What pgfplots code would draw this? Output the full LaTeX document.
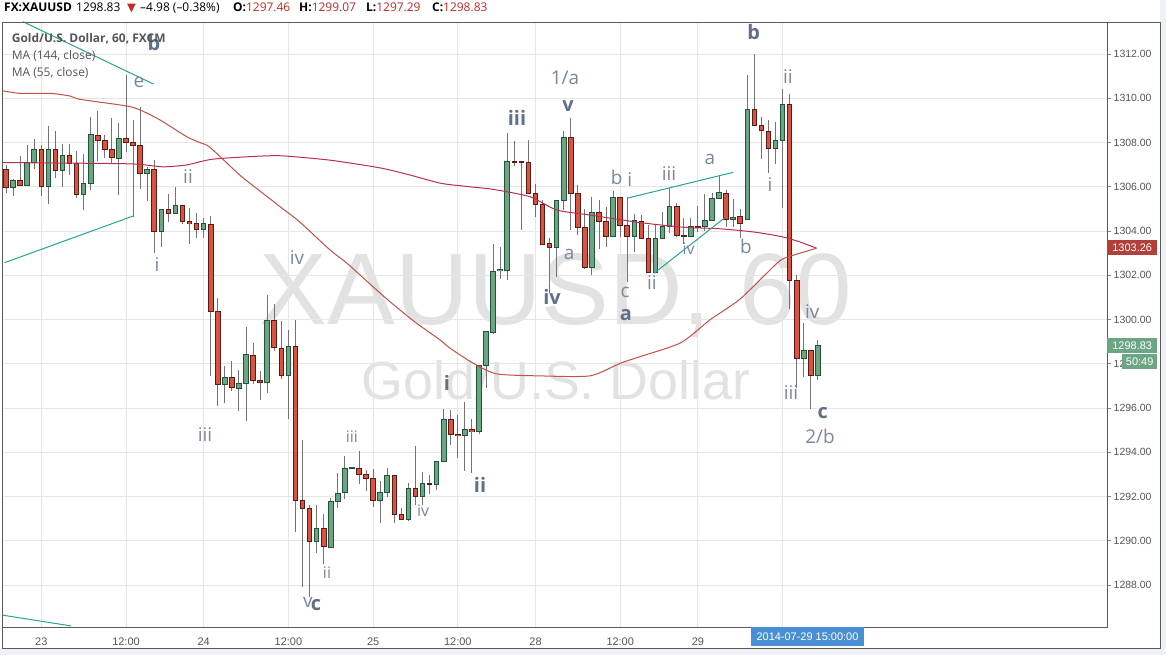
\documentclass[border=0pt]{standalone}
\usepackage{pgfplots}
\pgfplotsset{compat=1.18}
\usepackage{pgfplotstable}
\usepackage{fontspec}
\setmainfont{Open Sans}
\newfontfamily\axisfont{Liberation Sans}
\newfontfamily\symfont{DejaVu Sans}

\definecolor{upfill}{HTML}{6BA583}
\definecolor{upborder}{HTML}{225437}
\definecolor{dnfill}{HTML}{D75442}
\definecolor{dnborder}{HTML}{5B1A13}
\definecolor{wickc}{HTML}{737375}
\definecolor{gridc}{HTML}{E6E6E6}
\definecolor{maA}{HTML}{B73052}
\definecolor{maB}{HTML}{C45046}
\definecolor{trendc}{HTML}{26A68C}
\definecolor{wave}{HTML}{78879B}
\definecolor{waveb}{HTML}{5F7087}
\definecolor{wm}{HTML}{E2E2E2}
\definecolor{axtext}{HTML}{555555}
\definecolor{framec}{HTML}{5A5A5A}
\definecolor{bgstrip}{HTML}{EEF1F5}
\definecolor{hdrred}{HTML}{C62828}
\definecolor{pricered}{HTML}{B2403A}
\definecolor{pricegreen}{HTML}{6BA583}
\definecolor{datebox}{HTML}{4A8FD6}

\pgfplotstableread{
i o h l c
0 1306.78 1306.98 1305.70 1305.97
1 1305.97 1306.35 1305.60 1306.30
2 1306.30 1307.40 1306.05 1306.05
3 1306.05 1307.90 1306.05 1307.10
4 1307.10 1308.15 1306.80 1307.70
5 1307.70 1307.90 1305.60 1306.00
6 1306.00 1308.75 1305.25 1307.70
7 1307.70 1308.55 1306.40 1306.75
8 1306.75 1307.95 1306.00 1307.40
9 1307.40 1307.95 1306.55 1307.05
10 1307.05 1307.60 1305.50 1305.65
11 1305.65 1307.50 1304.95 1306.15
12 1306.15 1309.15 1305.85 1308.35
13 1308.35 1309.45 1307.15 1308.10
14 1308.10 1308.35 1307.30 1307.70
15 1307.70 1309.10 1307.05 1307.30
16 1307.30 1308.90 1305.65 1308.20
17 1308.20 1311.05 1307.55 1308.00
18 1308.00 1309.00 1304.65 1307.85
19 1307.85 1309.60 1305.90 1306.60
20 1306.60 1306.90 1305.35 1306.80
21 1306.80 1307.20 1303.00 1304.00
22 1304.00 1305.00 1303.30 1305.00
23 1305.00 1305.70 1304.40 1304.80
24 1304.80 1306.00 1304.80 1305.15
25 1305.15 1305.20 1304.35 1304.42
26 1304.42 1305.07 1303.41 1304.32
27 1304.32 1304.84 1303.71 1304.08
28 1304.08 1304.59 1303.71 1304.32
29 1304.32 1304.69 1297.46 1300.37
30 1300.37 1300.97 1296.10 1297.09
31 1297.09 1297.92 1296.21 1297.39
32 1297.39 1298.14 1296.76 1296.91
33 1296.91 1297.72 1295.85 1297.13
34 1297.13 1299.68 1295.43 1298.40
35 1298.40 1298.92 1297.09 1297.24
36 1297.24 1297.69 1296.36 1297.16
37 1297.18 1301.12 1296.67 1299.98
38 1299.98 1300.72 1298.60 1298.75
39 1298.72 1299.96 1297.32 1297.47
40 1297.47 1299.52 1295.51 1298.78
41 1298.78 1299.96 1290.38 1291.81
42 1291.81 1294.54 1287.90 1291.48
43 1291.48 1291.63 1287.48 1289.97
44 1289.97 1291.63 1289.47 1290.54
45 1290.54 1291.22 1288.96 1289.73
46 1289.73 1291.93 1289.73 1291.78
47 1291.78 1293.06 1291.48 1292.17
48 1292.17 1293.82 1291.90 1293.29
49 1293.29 1293.30 1293.29 1293.30
50 1293.29 1294.05 1292.57 1293.02
51 1293.02 1293.21 1292.26 1292.81
52 1292.81 1293.26 1291.55 1291.81
53 1291.81 1292.72 1290.80 1292.17
54 1292.17 1293.29 1291.96 1292.96
55 1292.96 1292.96 1290.82 1291.20
56 1291.20 1291.47 1290.97 1290.97
57 1290.97 1292.60 1290.92 1292.37
58 1292.37 1294.28 1291.62 1292.01
59 1292.01 1293.11 1291.62 1292.60
60 1292.60 1292.96 1292.13 1292.56
61 1292.56 1293.60 1292.28 1293.60
62 1293.60 1295.95 1293.60 1295.46
63 1295.46 1295.91 1294.32 1294.82
64 1294.82 1295.68 1293.76 1294.75
65 1294.75 1296.29 1293.13 1295.05
66 1295.05 1295.50 1293.08 1294.93
67 1294.93 1297.95 1294.83 1297.92
68 1297.92 1299.45 1296.90 1299.44
69 1299.44 1303.44 1299.36 1302.20
70 1302.20 1303.29 1301.85 1302.25
71 1302.23 1308.42 1301.78 1307.14
72 1307.14 1308.08 1306.97 1307.10
73 1307.12 1307.12 1304.04 1307.08
74 1307.10 1308.12 1305.70 1305.70
75 1305.70 1306.13 1304.65 1305.21
76 1305.21 1305.40 1303.41 1303.41
77 1303.44 1303.70 1301.20 1303.26
78 1303.26 1305.40 1301.93 1305.40
79 1305.40 1308.54 1304.95 1308.24
80 1308.24 1309.10 1304.04 1305.70
81 1305.70 1306.08 1303.82 1304.16
82 1304.16 1305.02 1302.30 1302.35
83 1302.35 1305.55 1302.00 1304.84
84 1304.84 1305.40 1303.21 1304.42
85 1304.42 1305.10 1303.29 1303.74
86 1303.74 1305.82 1303.74 1305.52
87 1305.52 1305.52 1303.74 1304.25
88 1304.25 1305.55 1301.70 1303.74
89 1303.74 1304.76 1303.06 1304.45
90 1304.45 1304.72 1303.66 1303.66
91 1303.66 1304.27 1302.15 1302.15
92 1302.15 1304.27 1302.15 1303.66
93 1303.66 1304.87 1303.66 1304.22
94 1304.22 1305.92 1303.92 1305.13
95 1305.13 1305.25 1303.74 1303.81
96 1303.80 1304.60 1303.43 1303.76
97 1303.74 1304.60 1303.74 1304.22
98 1304.22 1305.13 1303.96 1304.20
99 1304.19 1305.70 1304.00 1304.50
100 1304.50 1305.73 1304.46 1305.47
101 1305.47 1306.53 1305.47 1305.73
102 1305.73 1305.85 1304.19 1304.52
103 1304.52 1305.47 1304.19 1304.64
104 1304.64 1305.02 1303.71 1304.34
105 1304.53 1311.06 1304.53 1309.51
106 1309.51 1312.00 1308.80 1308.80
107 1308.78 1309.16 1307.29 1308.53
108 1308.53 1309.01 1306.64 1307.74
109 1307.74 1308.94 1307.05 1308.11
110 1308.11 1310.42 1305.03 1309.74
111 1309.74 1310.19 1300.50 1301.77
112 1301.77 1302.00 1296.90 1298.23
113 1298.23 1299.85 1297.43 1298.60
114 1298.60 1298.60 1295.97 1297.46
115 1297.46 1299.07 1297.29 1298.83
}\candles

\pgfplotstableread{
i v
-0.57 1307.09
8 1307.07
18 1307.03
22.2 1306.90
25.5 1306.98
27.5 1307.13
29.4 1307.25
34 1307.35
38.8 1307.40
45.9 1307.20
53 1306.85
57.2 1306.53
61.5 1306.16
65 1306.02
69 1305.88
74.2 1305.55
78 1304.95
82.7 1304.72
89.8 1304.38
95.9 1304.17
101.1 1304.10
106 1303.95
109.9 1303.74
112.5 1303.50
114.8 1303.22
}\maslow

\pgfplotstableread{
i v
-0.57 1310.34
1.98 1310.22
6.23 1310.22
9.07 1310.10
10.5 1309.95
17.1 1309.65
19.0 1309.47
21.8 1309.02
25.6 1308.26
27.5 1307.99
28.9 1307.78
33.1 1306.53
36.4 1305.70
38.8 1305.10
41.6 1304.41
45.9 1303.14
48.3 1302.54
52.5 1301.33
54.4 1300.80
57.9 1299.89
61.5 1299.07
62.9 1298.70
66.2 1298.02
69.5 1297.54
75.6 1297.45
82.7 1297.45
87.0 1298.02
89.8 1298.32
95.6 1298.95
99.7 1299.98
104.0 1300.93
109.2 1302.54
110.6 1302.81
114.8 1303.22
}\mafast

\begin{document}
\begin{tikzpicture}[x=1bp,y=1bp,
  wl/.style={font=\fontsize{19}{19}\selectfont, text=wave, inner sep=0pt},
  ws/.style={font=\fontsize{16}{16}\selectfont, text=wave, inner sep=0pt},
  wb/.style={font=\bfseries\fontsize{20}{20}\selectfont, text=waveb, inner sep=0pt}]
\fill[white] (0,0) rectangle (1166,655);
\path[use as bounding box] (0,0) rectangle (1166,655);
\fill[bgstrip] (1160,0) rectangle (1166,655);
\fill[bgstrip] (0,0) rectangle (1166,7);
% watermark
\node[anchor=base, inner sep=0pt, text=wm, font=\axisfont\fontsize{102}{102}\selectfont] at (556,330) {XAUUSD, 60};
\node[anchor=base, inner sep=0pt, text=wm, font=\axisfont\fontsize{54}{54}\selectfont] at (556,255) {Gold/U.S. Dollar};
\begin{axis}[
  at={(2bp,28bp)}, anchor=south west, scale only axis,
  width=1105bp, height=605bp,
  xmin=-0.567, xmax=155.95, ymin=1286.10, ymax=1313.446,
  axis line style={draw=framec, line width=0.9bp},
  xtick={5,17,28,40,52,64,75,87,98,110},
  xticklabels={23,12:00,24,12:00,25,12:00,28,12:00,29,{}},
  ytick={1288,1290,...,1312},
  yticklabels={1288.00,1290.00,1292.00,1294.00,1296.00,1298.00,1300.00,1302.00,1304.00,1306.00,1308.00,1310.00,1312.00},
  xmajorgrids, ymajorgrids,
  grid style={draw=gridc, line width=0.9bp},
  ytick pos=right, yticklabel pos=right,
  tick align=outside, major tick length=4bp,
  xtick style={draw=none},
  ytick style={draw=axtext!70, line width=0.8bp},
  xticklabel style={font=\axisfont\fontsize{11}{11}\selectfont, text=axtext, anchor=center, yshift=-10.3bp},
  yticklabel style={font=\axisfont\fontsize{10.5}{10.5}\selectfont, text=axtext, anchor=west, inner sep=0pt, xshift=2.5bp},
]
% wicks
\addplot[draw=none, mark=none, error bars/.cd, y dir=both, y explicit, error mark=none,
  error bar style={draw=wickc, line width=1bp}]
  table[x=i, y expr={(\thisrow{h}+\thisrow{l})/2}, y error expr={(\thisrow{h}-\thisrow{l})/2}] {\candles};
% up bodies
\addplot[draw=none, mark=none, unbounded coords=discard, error bars/.cd, y dir=both, y explicit, error mark=none,
  error bar style={draw=upborder, line width=5.6bp}]
  table[x=i, y expr={\thisrow{c}<\thisrow{o} ? nan : (\thisrow{o}+\thisrow{c})/2}, y error expr={abs(\thisrow{c}-\thisrow{o})/2+0.0226}] {\candles};
\addplot[draw=none, mark=none, unbounded coords=discard, error bars/.cd, y dir=both, y explicit, error mark=none,
  error bar style={draw=upfill, line width=3.6bp}]
  table[x=i, y expr={\thisrow{c}<\thisrow{o} ? nan : (\thisrow{o}+\thisrow{c})/2}, y error expr={max(abs(\thisrow{c}-\thisrow{o})/2-0.0226,0)}] {\candles};
% down bodies
\addplot[draw=none, mark=none, unbounded coords=discard, error bars/.cd, y dir=both, y explicit, error mark=none,
  error bar style={draw=dnborder, line width=5.6bp}]
  table[x=i, y expr={\thisrow{c}<\thisrow{o} ? (\thisrow{o}+\thisrow{c})/2 : nan}, y error expr={abs(\thisrow{c}-\thisrow{o})/2+0.0226}] {\candles};
\addplot[draw=none, mark=none, unbounded coords=discard, error bars/.cd, y dir=both, y explicit, error mark=none,
  error bar style={draw=dnfill, line width=3.6bp}]
  table[x=i, y expr={\thisrow{c}<\thisrow{o} ? (\thisrow{o}+\thisrow{c})/2 : nan}, y error expr={max(abs(\thisrow{c}-\thisrow{o})/2-0.0226,0)}] {\candles};
% moving averages
\addplot[maA, line width=1bp, mark=none, smooth, tension=0.4] table[x=i, y=v] {\maslow};
\addplot[maB, line width=1bp, mark=none, smooth, tension=0.4] table[x=i, y=v] {\mafast};
% trend lines
\addplot[trendc, line width=1bp, mark=none] coordinates {(2.4,1313.46) (20.9,1310.64)};
\addplot[trendc, line width=1bp, mark=none] coordinates {(-0.18,1302.57) (18.04,1304.68)};
\addplot[trendc, line width=1bp, mark=none] coordinates {(-0.57,1286.64) (9.2,1286.15)};
\addplot[trendc, line width=1bp, mark=none] coordinates {(87.96,1305.48) (103.0,1306.65)};
\addplot[trendc, line width=1bp, mark=none] coordinates {(91.8,1302.09) (101.7,1304.57)};
% wave labels
\node[wb] at (axis cs:20.96,1312.50) {b};
\node[wl] at (axis cs:18.84,1310.73) {e};
\node[wl] at (axis cs:25.78,1306.44) {ii};
\node[wl] at (axis cs:21.39,1302.46) {i};
\node[wl] at (axis cs:41.22,1302.82) {iv};
\node[wl] at (axis cs:28.19,1294.82) {iii};
\node[ws] at (axis cs:49.0,1294.69) {iii};
\node[wb] at (axis cs:62.46,1297.13) {i};
\node[wb] at (axis cs:67.14,1292.52) {ii};
\node[ws] at (axis cs:59.07,1291.34) {iv};
\node[ws] at (axis cs:45.47,1288.54) {ii};
\node[wl] at (axis cs:42.75,1287.19) {v};
\node[wb] at (axis cs:43.9,1287.10) {c};
\node[wb] at (axis cs:72.38,1309.11) {iii};
\node[wl] at (axis cs:79.18,1310.92) {1/a};
\node[wb] at (axis cs:79.6,1309.65) {v};
\node[wl] at (axis cs:79.75,1302.92) {a};
\node[wb] at (axis cs:77.34,1301.02) {iv};
\node[wl] at (axis cs:86.5,1306.40) {b};
\node[wl] at (axis cs:88.35,1306.31) {i};
\node[wl] at (axis cs:87.68,1301.20) {c};
\node[wb] at (axis cs:87.8,1300.20) {a};
\node[wl] at (axis cs:93.9,1306.58) {iii};
\node[wl] at (axis cs:99.7,1307.25) {a};
\node[ws] at (axis cs:96.7,1303.19) {iv};
\node[wl] at (axis cs:91.5,1301.65) {ii};
\node[wl] at (axis cs:104.8,1303.32) {b};
\node[wb] at (axis cs:105.9,1312.99) {b};
\node[wl] at (axis cs:110.76,1310.96) {ii};
\node[wl] at (axis cs:108.2,1306.12) {i};
\node[wl] at (axis cs:114.2,1300.38) {iv};
\node[wl] at (axis cs:111.2,1296.68) {iii};
\node[wb] at (axis cs:115.7,1295.77) {c};
\node[wl] at (axis cs:115.3,1294.73) {2/b};
\end{axis}
% frames
\draw[framec, line width=0.9bp] (2,7) rectangle (1160,633);
% price boxes
\node[fill=pricered, text=white, anchor=west, minimum height=15bp, minimum width=50bp, inner sep=0pt, font=\axisfont\fontsize{11}{11}\selectfont] at (1107,407.6) {1303.26};
\node[fill=pricegreen, text=white, anchor=west, minimum height=15bp, minimum width=50bp, inner sep=0pt, font=\axisfont\fontsize{11}{11}\selectfont] at (1107,309.6) {1298.83};
\node[fill=pricegreen, text=white, anchor=west, minimum height=15bp, minimum width=35bp, inner sep=0pt, font=\axisfont\fontsize{11}{11}\selectfont] at (1122,293.5) {50:49};
% date box
\node[fill=datebox, text=white, minimum height=19bp, minimum width=113bp, inner sep=0pt, font=\axisfont\fontsize{11}{11}\selectfont] at (807.5,18) {2014-07-29 15:00:00};
% legend
\node[anchor=base west, inner sep=0pt, text=axtext, font=\bfseries\fontsize{12}{12}\selectfont] at (11.7,612.3) {Gold/U.S. Dollar, 60, FXCM};
\node[anchor=base west, inner sep=0pt, text=axtext, font=\fontsize{12}{12}\selectfont] at (11.7,595) {MA (144, close)};
\node[anchor=base west, inner sep=0pt, text=axtext, font=\fontsize{12}{12}\selectfont] at (11.7,578.3) {MA (55, close)};
% header
\begin{scope}[every node/.style={anchor=base west, inner sep=0pt, font=\fontsize{12}{12}\selectfont}]
\node at (4,643.3) {\textbf{FX:XAUUSD}};
\node at (76,643.3) {1298.83};
\node[text=hdrred, font=\symfont\fontsize{11.5}{11.5}\selectfont] at (127,643.3) {▼};
\node at (140,643.3) {--4.98 (--0.38\%)};
\node at (233,643.3) {\textbf{O:}\textcolor{hdrred}{1297.46}};
\node at (299,643.3) {\textbf{H:}\textcolor{hdrred}{1299.07}};
\node at (366,643.3) {\textbf{L:}\textcolor{hdrred}{1297.29}};
\node at (432,643.3) {\textbf{C:}\textcolor{hdrred}{1298.83}};
\end{scope}
\end{tikzpicture}
\end{document}
